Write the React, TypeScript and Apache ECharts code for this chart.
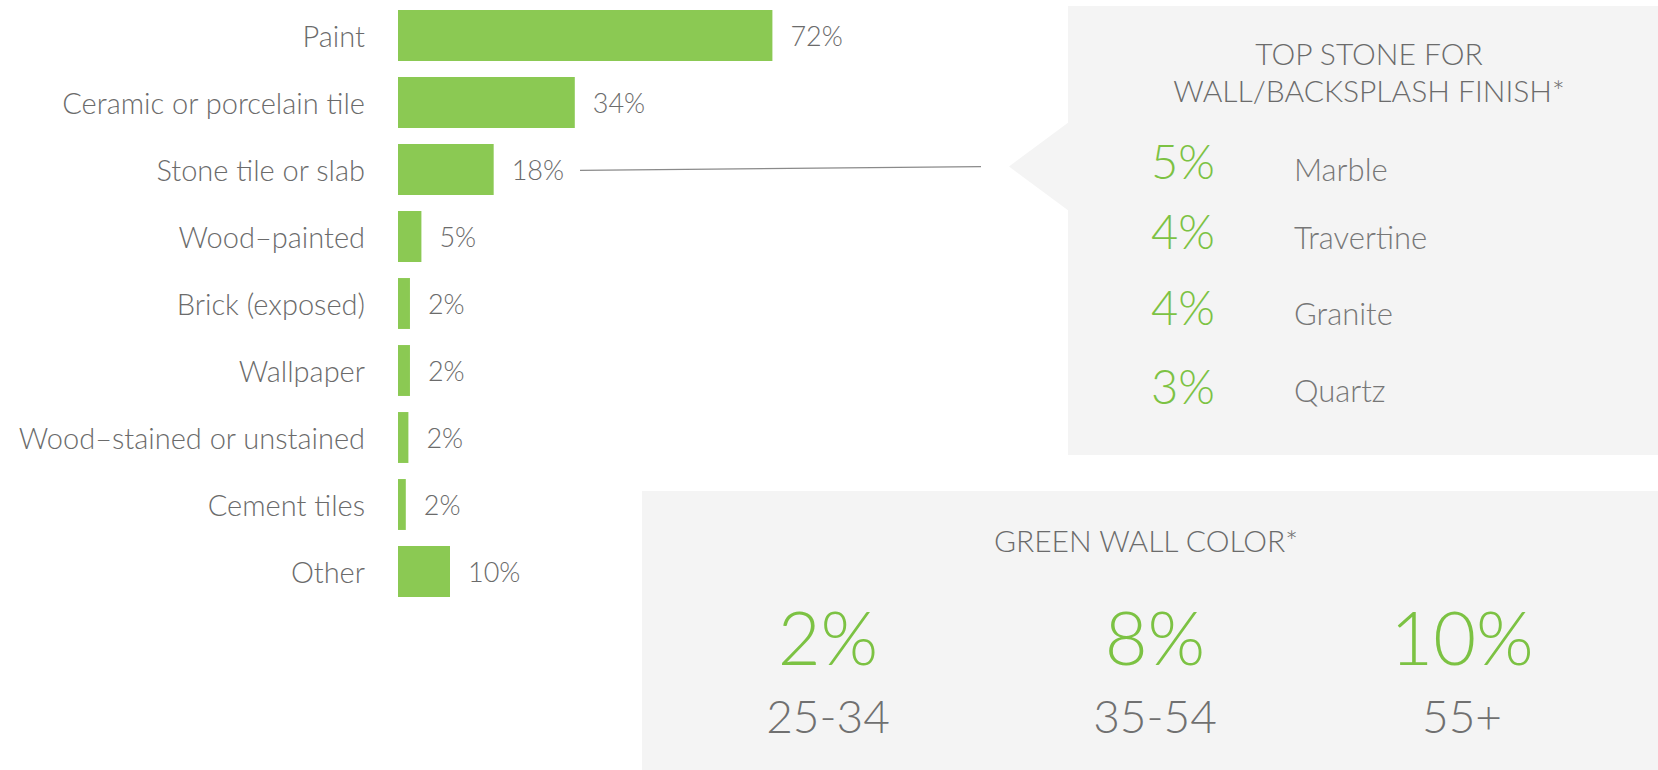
import React, { useEffect, useRef } from "react";
import * as echarts from "echarts";

const categories = [
  "Paint",
  "Ceramic or porcelain tile",
  "Stone tile or slab",
  "Wood\u2013painted",
  "Brick (exposed)",
  "Wallpaper",
  "Wood\u2013stained or unstained",
  "Cement tiles",
  "Other",
];
const values = [72, 34, 18, 5, 2, 2, 2, 2, 10];
const barPixelValues = [72, 34, 18.4, 4.5, 2.3, 2.3, 2, 1.5, 10];

const stoneTitle = ["TOP STONE FOR", "WALL/BACKSPLASH FINISH*"];
const stoneNames = ["Marble", "Travertine", "Granite", "Quartz"];
const stoneValues = [5, 4, 4, 3];

const greenTitle = "GREEN WALL COLOR*";
const ageGroups = ["25-34", "35-54", "55+"];
const greenValues = [2, 8, 10];

const FONT = "Lato";
const GRAY = "#6b6b6b";
const GREEN_TEXT = "#7cc243";
const BAR = "#8bc953";
const PANEL = "#f4f4f4";

const stonePctY = [161, 231, 307, 386];
const stoneNameY = [169, 237, 313, 390];
const ageX = [828, 1155, 1462];

export default function App() {
  const ref = useRef<HTMLDivElement>(null);
  useEffect(() => {
    const chart = echarts.init(ref.current!, null, { renderer: "svg" });
    const graphics: any[] = [
      {
        type: "rect",
        z: 0,
        shape: { x: 1068, y: 6, width: 590, height: 449 },
        style: { fill: PANEL },
      },
      {
        type: "polygon",
        z: 0,
        shape: { points: [[1069, 122], [1009, 166.5], [1069, 211]] },
        style: { fill: PANEL },
      },
      {
        type: "rect",
        z: 0,
        shape: { x: 642, y: 491, width: 1016, height: 279 },
        style: { fill: PANEL },
      },
      {
        type: "line",
        shape: { x1: 580, y1: 170.3, x2: 981, y2: 166.7 },
        style: { stroke: "#8a8a8a", lineWidth: 1.2 },
      },
    ];
    stoneTitle.forEach((t, i) => {
      graphics.push({
        type: "text",
        x: 1369,
        y: 53 + i * 37,
        style: {
          text: t,
          fill: GRAY,
          font: `300 30px ${FONT}`,
          textAlign: "center",
          textVerticalAlign: "middle",
        },
      });
    });
    stoneNames.forEach((n, i) => {
      graphics.push({
        type: "text",
        x: 1151,
        y: stonePctY[i],
        style: {
          text: stoneValues[i] + "%",
          fill: GREEN_TEXT,
          font: `300 47px ${FONT}`,
          textAlign: "left",
          textVerticalAlign: "middle",
        },
      });
      graphics.push({
        type: "text",
        x: 1294,
        y: stoneNameY[i],
        style: {
          text: n,
          fill: "#777777",
          font: `300 31px ${FONT}`,
          textAlign: "left",
          textVerticalAlign: "middle",
        },
      });
    });
    graphics.push({
      type: "text",
      x: 1146,
      y: 540,
      style: {
        text: greenTitle,
        fill: GRAY,
        font: `300 30px ${FONT}`,
        textAlign: "center",
        textVerticalAlign: "middle",
      },
    });
    ageGroups.forEach((a, i) => {
      graphics.push({
        type: "text",
        x: ageX[i],
        y: 636,
        style: {
          text: greenValues[i] + "%",
          fill: GREEN_TEXT,
          font: `300 74px ${FONT}`,
          textAlign: "center",
          textVerticalAlign: "middle",
        },
      });
      graphics.push({
        type: "text",
        x: ageX[i],
        y: 715,
        style: {
          text: a,
          fill: "#707070",
          font: `300 46px ${FONT}`,
          textAlign: "center",
          textVerticalAlign: "middle",
        },
      });
    });

    chart.setOption({
      animation: false,
      grid: { left: 398, top: 2, width: 520, height: 603 },
      xAxis: {
        type: "value",
        min: 0,
        max: 100,
        show: false,
      },
      yAxis: {
        type: "category",
        data: categories,
        inverse: true,
        axisLine: { show: false },
        axisTick: { show: false },
        axisLabel: {
          margin: 33,
          color: GRAY,
          fontFamily: FONT,
          fontWeight: 300,
          fontSize: 29,
        },
      },
      series: [
        {
          type: "bar",
          data: barPixelValues.map((v) => v),
          barCategoryGap: "24%",
          itemStyle: { color: BAR },
          label: {
            show: true,
            position: "right",
            distance: 18,
            color: GRAY,
            fontFamily: FONT,
            fontWeight: 300,
            fontSize: 27,
            formatter: (p: any) => values[p.dataIndex] + "%",
          },
        },
      ],
      graphic: graphics,
    });
    return () => chart.dispose();
  }, []);
  return (
    <div
      ref={ref}
      style={{ position: "absolute", left: 0, top: 0, width: 1658, height: 770 }}
    />
  );
}
